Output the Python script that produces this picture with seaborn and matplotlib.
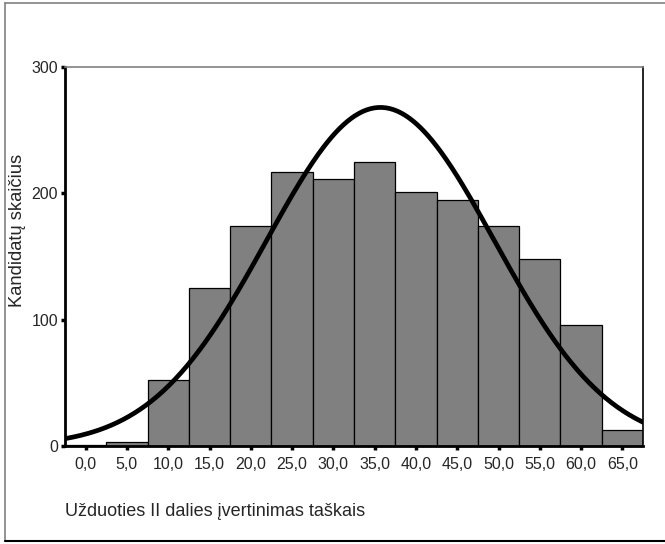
import numpy as np
import pandas as pd
import matplotlib
matplotlib.use("Agg")
import matplotlib.pyplot as plt
from matplotlib.lines import Line2D
import seaborn as sns

# --- data ---
bin_centers = [0, 5, 10, 15, 20, 25, 30, 35, 40, 45, 50, 55, 60, 65]
counts = [1, 3, 52, 125, 174, 217, 211, 225, 201, 195, 174, 148, 96, 13]
x_tick_labels = ["0,0", "5,0", "10,0", "15,0", "20,0", "25,0", "30,0", "35,0",
                 "40,0", "45,0", "50,0", "55,0", "60,0", "65,0"]
y_ticks = [0, 100, 200, 300]
# normal fit parameters
curve_mean = 35.7
curve_sd = 13.8
curve_peak = 268

sns.set_style("white")
plt.rcParams['font.family'] = ['Liberation Sans', 'DejaVu Sans']

fig = plt.figure(figsize=(6.65, 5.44), dpi=100)
ax = fig.add_axes([65/665, 1-446/544, (643-65)/665, (446-67)/544])

df = pd.DataFrame({"score": bin_centers, "n": counts})
sns.histplot(data=df, x="score", weights="n", binwidth=5, binrange=(-2.5, 67.5), ax=ax,
             color="#808080", edgecolor="black", linewidth=0.9, alpha=1.0)

xs = np.linspace(-2.5, 67.5, 300)
ys = curve_peak * np.exp(-0.5 * ((xs - curve_mean) / curve_sd) ** 2)
cdf = pd.DataFrame({"x": xs, "y": ys})
sns.lineplot(data=cdf, x="x", y="y", ax=ax, color="black", linewidth=3.4)

ax.set_xlim(-2.5, 67.5)
ax.set_ylim(0, 300)
ax.set_xticks(bin_centers)
ax.set_xticklabels(x_tick_labels, fontsize=11.5)
ax.set_yticks(y_ticks)
ax.set_yticklabels([str(t) for t in y_ticks], fontsize=11.5)
ax.tick_params(axis='both', which='both', direction='out', length=3, width=2.5,
               color='black', bottom=True, left=True)
ax.tick_params(axis='x', pad=5)
ax.tick_params(axis='y', pad=2)
ax.set_xlabel("")
ax.set_ylabel("")

for side in ['left', 'bottom']:
    ax.spines[side].set_color('black')
    ax.spines[side].set_linewidth(2)
ax.spines['right'].set_color('black')
ax.spines['right'].set_linewidth(1.2)
ax.spines['top'].set_color('#808080')
ax.spines['top'].set_linewidth(1.2)

fig.text(18/665, 1-230/544, "Kandidatų skaičius", fontsize=13.2,
         rotation=90, ha='center', va='center')
fig.text(65/665, 1-511/544, "Užduoties II dalies įvertinimas taškais",
         fontsize=13, ha='left', va='center')

# outer frame
fx0, fx1 = 5/665, 1.0
fy0, fy1 = 1-541/544, 1-3/544
fig.add_artist(Line2D([fx0, fx0], [fy0, fy1], transform=fig.transFigure, color='#808080', lw=1.2))
fig.add_artist(Line2D([fx0, fx1], [fy1, fy1], transform=fig.transFigure, color='#808080', lw=1.2))
fig.add_artist(Line2D([fx0, fx1], [fy0, fy0], transform=fig.transFigure, color='black', lw=1.5))

fig.savefig("out.png", dpi=100)
